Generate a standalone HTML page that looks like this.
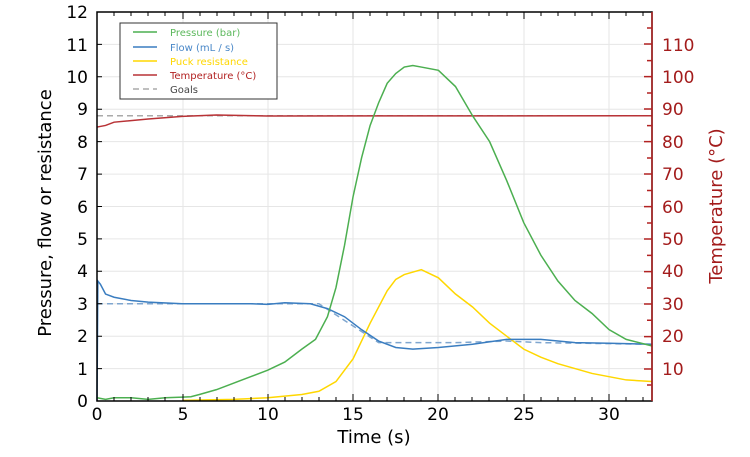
<!DOCTYPE html>
<html><head><style>body{margin:0;background:#fff}svg{display:block;font-family:"DejaVu Sans","Liberation Sans",sans-serif}</style></head>
<body>
<svg width="750" height="457" viewBox="0 0 750 457">
<g stroke="#e6e6e6" stroke-width="1">
<line x1="183" y1="12" x2="183" y2="401"/><line x1="268" y1="12" x2="268" y2="401"/><line x1="353" y1="12" x2="353" y2="401"/><line x1="438" y1="12" x2="438" y2="401"/><line x1="524" y1="12" x2="524" y2="401"/><line x1="609" y1="12" x2="609" y2="401"/>
<line x1="97" y1="368.6" x2="652" y2="368.6"/><line x1="97" y1="336.2" x2="652" y2="336.2"/><line x1="97" y1="303.7" x2="652" y2="303.7"/><line x1="97" y1="271.3" x2="652" y2="271.3"/><line x1="97" y1="238.9" x2="652" y2="238.9"/><line x1="97" y1="206.5" x2="652" y2="206.5"/><line x1="97" y1="174.1" x2="652" y2="174.1"/><line x1="97" y1="141.6" x2="652" y2="141.6"/><line x1="97" y1="109.2" x2="652" y2="109.2"/><line x1="97" y1="76.8" x2="652" y2="76.8"/><line x1="97" y1="44.4" x2="652" y2="44.4"/>
</g>
<g transform="translate(97,401) scale(17.07,-32.42)" fill="none" stroke-width="1.5">
<polyline vector-effect="non-scaling-stroke" stroke="#aaa" stroke-dasharray="6,4" points="0,8.8 32.5,8.8"/>
<polyline vector-effect="non-scaling-stroke" stroke="#7fa6cf" stroke-dasharray="6,4" points="0,3 13,3 16.5,1.8 21,1.8 24,1.85 26,1.8 32.5,1.75"/>
<polyline vector-effect="non-scaling-stroke" stroke="#b83236" points="0,8.45 0.5,8.5 1,8.6 3,8.7 5,8.78 7,8.82 10,8.79 32.5,8.8"/>
<polyline vector-effect="non-scaling-stroke" stroke="#ffd700" points="5,0.02 8,0.05 10,0.1 12,0.2 13,0.3 14,0.6 15,1.3 16,2.4 17,3.4 17.5,3.75 18,3.9 19,4.05 20,3.8 21,3.3 22,2.9 23,2.4 24,2 25,1.6 26,1.35 27,1.15 28,1 29,0.85 30,0.75 31,0.65 32.5,0.6"/>
<polyline vector-effect="non-scaling-stroke" stroke="#3a7dc0" points="0,0 0.05,3.7 0.2,3.6 0.5,3.3 1,3.2 2,3.1 3,3.05 5,3 7,3 9,3 10,2.98 11,3.03 12.5,3 13.5,2.85 14.5,2.6 15.5,2.2 16.5,1.85 17.5,1.65 18.5,1.6 20,1.65 22,1.75 24,1.9 26,1.9 28,1.8 30,1.78 32.5,1.75"/>
<polyline vector-effect="non-scaling-stroke" stroke="#4caf50" points="0,0.1 0.5,0.05 1,0.1 2,0.1 3,0.05 4,0.1 5,0.12 5.5,0.13 6,0.2 7,0.35 8,0.55 9,0.75 10,0.95 11,1.2 12,1.6 12.8,1.9 13.5,2.6 14,3.5 14.5,4.8 15,6.3 15.5,7.5 16,8.5 16.5,9.2 17,9.8 17.5,10.1 18,10.3 18.5,10.35 19,10.3 20,10.2 21,9.7 22,8.8 23,8 24,6.8 25,5.5 26,4.5 27,3.7 28,3.1 29,2.7 30,2.2 31,1.9 32.5,1.7"/>
</g>
<rect x="97" y="12" width="555" height="389" fill="none" stroke="#000" stroke-width="1.5"/>
<line x1="652" y1="12" x2="652" y2="401" stroke="#b22222" stroke-width="1.5"/>
<g stroke="#000" stroke-width="1">
<path d="M97,368.6h5M97,336.2h5M97,303.7h5M97,271.3h5M97,238.9h5M97,206.5h5M97,174.1h5M97,141.6h5M97,109.2h5M97,76.8h5M97,44.4h5"/>
<path d="M114,401v-4M131,401v-4M148,401v-4M165,401v-4M200,401v-4M217,401v-4M234,401v-4M251,401v-4M285,401v-4M302,401v-4M319,401v-4M336,401v-4M370,401v-4M387,401v-4M404,401v-4M421,401v-4M455,401v-4M472,401v-4M489,401v-4M507,401v-4M541,401v-4M558,401v-4M575,401v-4M592,401v-4M626,401v-4M643,401v-4M183,401v-7M268,401v-7M353,401v-7M438,401v-7M524,401v-7M609,401v-7"/>
<path d="M114,12v4M131,12v4M148,12v4M165,12v4M200,12v4M217,12v4M234,12v4M251,12v4M285,12v4M302,12v4M319,12v4M336,12v4M370,12v4M387,12v4M404,12v4M421,12v4M455,12v4M472,12v4M489,12v4M507,12v4M541,12v4M558,12v4M575,12v4M592,12v4M626,12v4M643,12v4M183,12v7M268,12v7M353,12v7M438,12v7M524,12v7M609,12v7"/>
</g>
<g stroke="#b22222" stroke-width="1.5">
<path d="M652,369h-8M652,336.6h-8M652,304h-8M652,271.6h-8M652,239h-8M652,206.6h-8M652,174h-8M652,141.6h-8M652,109h-8M652,76.6h-8M652,44h-8"/>
<path d="M652,385h-5M652,352.8h-5M652,320.3h-5M652,288h-5M652,255.4h-5M652,223h-5M652,190.5h-5M652,158h-5M652,125.6h-5M652,93h-5M652,60.6h-5M652,28h-5"/>
</g>
<g font-size="17" fill="#000" text-anchor="end">
<text x="88" y="407">0</text><text x="88" y="375">1</text><text x="88" y="342">2</text><text x="88" y="310">3</text><text x="88" y="277">4</text><text x="88" y="245">5</text><text x="88" y="213">6</text><text x="88" y="180">7</text><text x="88" y="148">8</text><text x="88" y="115">9</text><text x="88" y="83">10</text><text x="88" y="51">11</text><text x="88" y="18">12</text>
</g>
<g font-size="17" fill="#000" text-anchor="middle">
<text x="97" y="420">0</text><text x="183" y="420">5</text><text x="268" y="420">10</text><text x="353" y="420">15</text><text x="438" y="420">20</text><text x="524" y="420">25</text><text x="609" y="420">30</text>
<text x="374" y="443" font-size="18">Time (s)</text>
</g>
<text transform="translate(51,213) rotate(-90)" font-size="18" text-anchor="middle">Pressure, flow or resistance</text>
<g font-size="17" fill="#a31c1c">
<text x="662" y="375">10</text><text x="662" y="342">20</text><text x="662" y="310">30</text><text x="662" y="277">40</text><text x="662" y="245">50</text><text x="662" y="213">60</text><text x="662" y="180">70</text><text x="662" y="148">80</text><text x="662" y="115">90</text><text x="662" y="83">100</text><text x="662" y="51">110</text>
</g>
<text transform="translate(722,206) rotate(-90)" font-size="18" fill="#a31c1c" text-anchor="middle">Temperature (°C)</text>
<rect x="120" y="23" width="157" height="76" fill="#fff" stroke="#333" stroke-width="1"/>
<g stroke-width="1.5">
<line x1="133" y1="32" x2="157" y2="32" stroke="#4caf50"/>
<line x1="133" y1="47" x2="157" y2="47" stroke="#3a7dc0"/>
<line x1="133" y1="61" x2="157" y2="61" stroke="#ffd700"/>
<line x1="133" y1="75" x2="157" y2="75" stroke="#b83236"/>
<line x1="133" y1="89" x2="157" y2="89" stroke="#aaa" stroke-dasharray="6,4"/>
</g>
<g font-size="10">
<text x="170" y="36" fill="#5cb85c">Pressure (bar)</text>
<text x="170" y="51" fill="#4a88c8">Flow (mL / s)</text>
<text x="170" y="65" fill="#ffd700">Puck resistance</text>
<text x="170" y="79" fill="#b22222">Temperature (°C)</text>
<text x="170" y="93" fill="#444">Goals</text>
</g>
</svg>
</body></html>
